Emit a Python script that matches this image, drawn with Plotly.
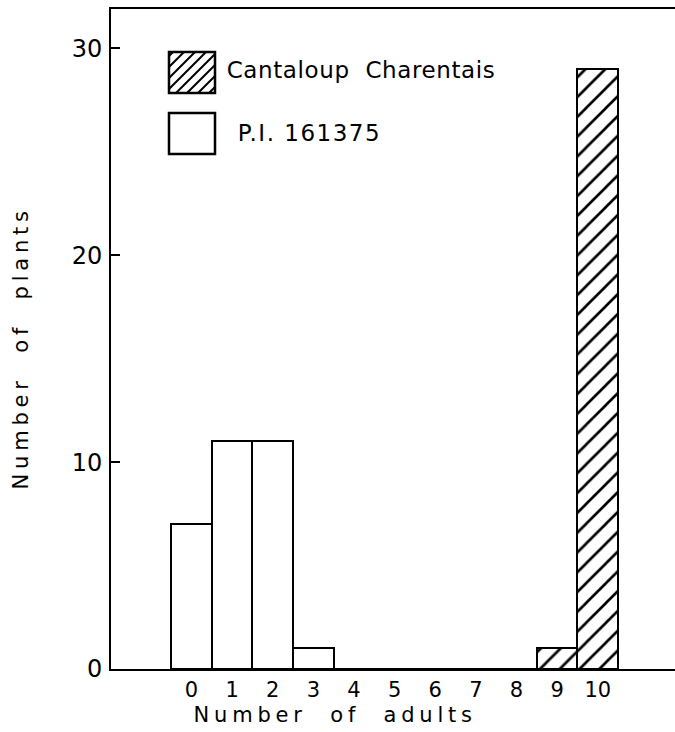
import plotly.graph_objects as go

# ---- data ----
adults = list(range(11))
tick_labels = [str(a) for a in adults]
cantaloup = [0, 0, 0, 0, 0, 0, 0, 0, 0, 1, 29]
pi161375 = [7, 11, 11, 1, 0, 0, 0, 0, 0, 0, 0]
series_names = ["Cantaloup  Charentais", "P.I. 161375"]

W, H = 675, 732
L, R, T, B = 111, 0, 9, 63
PW, PH = W - L - R, H - T - B

def px(x):
    return (x - L) / PW

def py(y):
    return (H - B - y) / PH

fig = go.Figure()
fig.add_trace(go.Bar(
    x=adults, y=pi161375, width=1, name=series_names[1],
    marker=dict(color="white", line=dict(color="black", width=2)),
    showlegend=False,
))
fig.add_trace(go.Bar(
    x=adults, y=cantaloup, width=1, name=series_names[0],
    marker=dict(color="white", line=dict(color="black", width=2),
                pattern=dict(shape="/", size=14, solidity=0.19,
                             fgcolor="#000000", fgopacity=1, bgcolor="white")),
    showlegend=False,
))

# legend drawn as shapes + annotations
shapes = []
bx0, bx1 = 169, 215
hy0, hy1 = 52, 93
segs = []
s = 11
c = bx0 + hy0 + 4
while c < bx1 + hy1:
    xa = max(bx0, c - hy1)
    xb = min(bx1, c - hy0)
    if xb > xa:
        segs.append(f"M{px(xa):.5f},{py(c - xa):.5f} L{px(xb):.5f},{py(c - xb):.5f}")
    c += s
shapes.append(dict(type="path", xref="paper", yref="paper", path=" ".join(segs),
                   line=dict(color="black", width=2)))
shapes.append(dict(type="rect", xref="paper", yref="paper",
                   x0=px(bx0), x1=px(bx1), y0=py(hy1), y1=py(hy0),
                   line=dict(color="black", width=2.5)))
oy0, oy1 = 113, 154
shapes.append(dict(type="rect", xref="paper", yref="paper",
                   x0=px(bx0), x1=px(bx1), y0=py(oy1), y1=py(oy0),
                   line=dict(color="black", width=2.5), fillcolor="white"))

font = "DejaVu Sans"
annotations = [
    dict(text=series_names[0], x=px(231), y=py(70), xref="paper", yref="paper",
         xanchor="left", yanchor="middle", showarrow=False,
         font=dict(family=font, size=23, color="black")),
    dict(text=series_names[1], x=px(244), y=py(133), xref="paper", yref="paper",
         xanchor="left", yanchor="middle", showarrow=False,
         font=dict(family=font, size=23, color="black")),
    dict(text="Number of adults", x=px(335), y=py(715), xref="paper", yref="paper",
         xanchor="center", yanchor="middle", showarrow=False,
         font=dict(family=font, size=21, color="black")),
    dict(text="Number of plants", x=px(21), y=py(348), xref="paper", yref="paper",
         xanchor="center", yanchor="middle", showarrow=False, textangle=-90,
         font=dict(family=font, size=21, color="black")),
]

fig.update_layout(
    width=W, height=H,
    margin=dict(l=L, r=R, t=T, b=B, pad=0),
    paper_bgcolor="white", plot_bgcolor="white",
    barmode="overlay", bargap=0,
    shapes=shapes, annotations=annotations,
    font=dict(family=font, color="black"),
)
fig.update_xaxes(
    range=[-1.98, 11.9], tickmode="array", tickvals=adults, ticktext=tick_labels,
    showgrid=False, zeroline=False, showline=True, linecolor="black", linewidth=2,
    mirror=True, ticks="", tickfont=dict(family=font, size=21, color="black"),
    ticklabelstandoff=1,
)
fig.update_yaxes(
    range=[0, 31.9], tickvals=[0, 10, 20, 30],
    showgrid=False, zeroline=False, showline=True, linecolor="black", linewidth=2,
    ticks="inside", ticklen=9, tickwidth=2, tickcolor="black",
    tickfont=dict(family=font, size=24, color="black"), ticklabelstandoff=2,
)

post = """
document.body.style.margin = '0';
document.body.style.padding = '0';
document.querySelectorAll('text').forEach(function(t){
  var s = t.textContent;
  if (s.indexOf('Number of') === 0) {
    t.style.letterSpacing = '4.8px';
    t.style.wordSpacing = '12px';
  } else if (s.indexOf('Cantaloup') === 0) {
    t.style.letterSpacing = '0.6px';
  } else if (s.indexOf('P.I.') === 0) {
    t.style.letterSpacing = '1.5px';
  }
});
"""
fig.write_html("out.html", post_script=post, config={"displayModeBar": False})
